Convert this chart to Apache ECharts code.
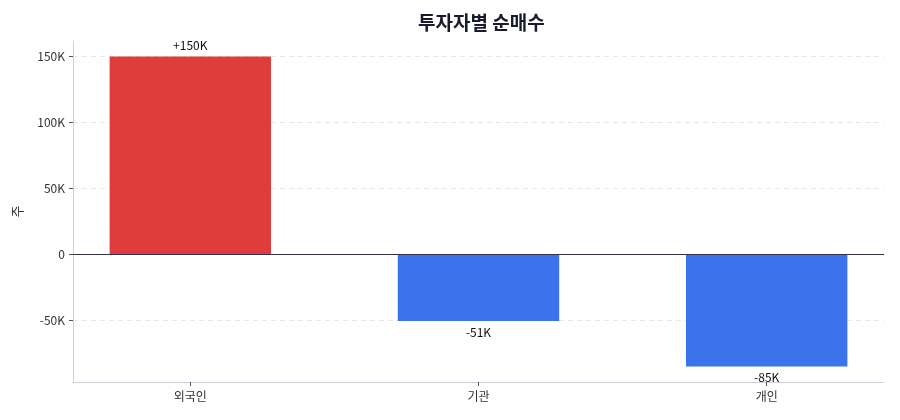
<!DOCTYPE html>
<html><head><meta charset="utf-8">
<script src="https://cdn.jsdelivr.net/npm/echarts@6/dist/echarts.min.js"></script>
<style>html,body{margin:0;padding:0;background:#fff}#c{width:900px;height:420px}</style>
</head><body><div id="c"></div>
<script>
const categories = ['외국인', '기관', '개인'];
const positions = [0, 1, 2];
const values = [150000, -50600, -85000];
const labels = ['+150K', '-51K', '-85K'];
const yTicks = [-50000, 0, 50000, 100000, 150000];
const colors = ['#e03c3c', '#3b73ec', '#3b73ec'];
const FONT = '"Noto Sans CJK KR", "Noto Sans", sans-serif';
function fmt(v){ return v === 0 ? '0' : (v/1000) + 'K'; }
const chart = echarts.init(document.getElementById('c'));
chart.setOption({
  animation: false,
  textStyle: { fontFamily: FONT },
  title: { text: '투자자별 순매수', left: 413, top: 8,
    textStyle: { fontFamily: FONT, fontSize: 19, fontWeight: 'bold', color: '#1a1a2e' } },
  grid: { left: 73, right: 16, top: 41, bottom: 38 },
  xAxis: {
    type: 'value', min: -0.407, max: 2.407,
    axisLine: { show: true, onZero: false, lineStyle: { color: '#cdd2dc' } },
    axisTick: { show: true, length: 4, customValues: positions, lineStyle: { color: '#555' } },
    axisLabel: { customValues: positions, formatter: v => categories[Math.round(v)],
      color: '#333', fontSize: 12, margin: 8, fontFamily: FONT },
    splitLine: { show: false }
  },
  yAxis: {
    type: 'value', min: -96750, max: 161750,
    name: '주', nameLocation: 'middle', nameGap: 49,
    nameTextStyle: { color: '#333', fontSize: 13, fontFamily: FONT },
    axisLine: { show: true, onZero: false, lineStyle: { color: '#cdd2dc' } },
    axisTick: { show: true, length: 4, customValues: yTicks, lineStyle: { color: '#555' } },
    axisLabel: { customValues: yTicks, formatter: fmt, color: '#333', fontSize: 12, fontFamily: FONT },
    splitLine: { show: true, lineStyle: { color: '#e6e6e6', type: [5, 4] } }
  },
  series: [{
    type: 'bar', barWidth: '56%',
    data: values.map((v, i) => ({ value: [positions[i], v], itemStyle: { color: colors[i] },
      label: { position: v >= 0 ? 'top' : 'bottom' } })),
    label: { show: true, fontSize: 12, color: '#111', distance: 5, fontFamily: FONT,
      formatter: p => labels[p.dataIndex] },
    markLine: { silent: true, symbol: 'none', label: { show: false },
      lineStyle: { color: '#333344', type: 'solid', width: 1.2 },
      data: [{ yAxis: 0 }] }
  }]
});
</script></body></html>
